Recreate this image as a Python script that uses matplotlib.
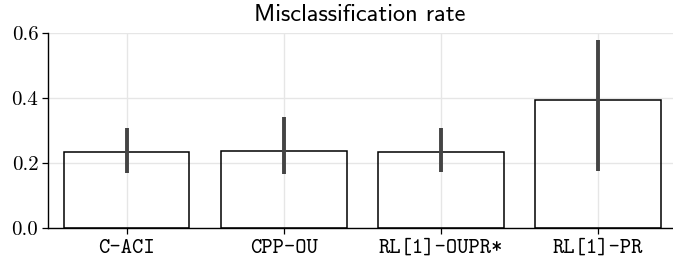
import matplotlib
matplotlib.use("Agg")
import matplotlib.pyplot as plt
import numpy as np

methods = ["C-ACI", "CPP-OU", "RL[1]-OUPR*", "RL[1]-PR"]
rate = [0.235, 0.237, 0.234, 0.393]
err_lo = [0.168, 0.167, 0.173, 0.176]
err_hi = [0.309, 0.340, 0.309, 0.580]
yticks = [0.0, 0.2, 0.4, 0.6]

fig = plt.figure(figsize=(6.73, 2.58), dpi=100)
ax = fig.add_axes([48/673, 30/258, (676.5-48)/673, 195/258])

x = np.arange(len(methods))
rate = np.array(rate)
yerr = np.vstack((rate - np.array(err_lo), np.array(err_hi) - rate))

ax.grid(True, color="#e6e6e6", linewidth=1.0, zorder=0)
ax.set_axisbelow(True)
ax.bar(x, rate, width=0.8, facecolor="none", edgecolor="black", linewidth=1.1, zorder=2)
ax.errorbar(x, rate, yerr=yerr, fmt="none", ecolor="#444444", elinewidth=2.8, capsize=0, zorder=3)

ax.set_xlim(-0.5, 3.5)
ax.set_ylim(0, 0.6)
ax.set_xticks(x)
ax.set_xticklabels(methods, family="cmtt10", fontsize=15.5)
ax.set_yticks(yticks)
ax.set_yticklabels(["%.1f" % v for v in yticks], family="cmr10", fontsize=15)
ax.tick_params(direction="out", length=4, width=0.9)
ax.tick_params(axis="x", pad=4)
ax.tick_params(axis="y", pad=3)
for s in ["top", "right"]:
    ax.spines[s].set_visible(False)
for s in ["left", "bottom"]:
    ax.spines[s].set_linewidth(1.0)

fig.text(360/673, 1 - 15/258, "Misclassification rate", family="cmss10", fontsize=17.5,
         ha="center", va="center")

fig.savefig("out.png", dpi=100)
